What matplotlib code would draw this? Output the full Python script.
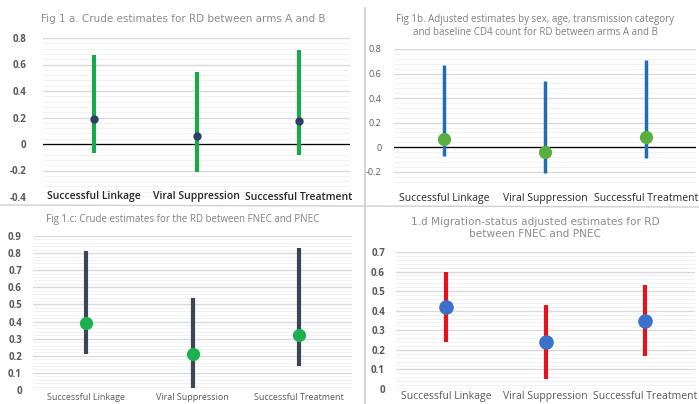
import matplotlib
matplotlib.use("Agg")
import matplotlib.pyplot as plt
from matplotlib.ticker import MultipleLocator, FixedLocator
import numpy as np

categories = ["Successful Linkage", "Viral Suppression", "Successful Treatment"]

# Fig 1a
a_est = [0.19, 0.06, 0.175]
a_low = [-0.07, -0.21, -0.08]
a_high = [0.67, 0.54, 0.71]
a_ticks = [-0.4, -0.2, 0, 0.2, 0.4, 0.6, 0.8]
a_ticklabels = ["-0.4", "-0.2", "0", "0.2", "0.4", "0.6", "0.8"]

# Fig 1b
b_est = [0.07, -0.04, 0.08]
b_low = [-0.07, -0.21, -0.09]
b_high = [0.67, 0.54, 0.71]
b_ticks = [-0.2, 0, 0.2, 0.4, 0.6, 0.8]
b_ticklabels = ["-0.2", "0", "0.2", "0.4", "0.6", "0.8"]

# Fig 1c
c_est = [0.39, 0.21, 0.32]
c_low = [0.21, 0.01, 0.14]
c_high = [0.81, 0.54, 0.83]
c_ticks = [0, 0.1, 0.2, 0.3, 0.4, 0.5, 0.6, 0.7, 0.8, 0.9]
c_ticklabels = ["0", "0.1", "0.2", "0.3", "0.4", "0.5", "0.6", "0.7", "0.8", "0.9"]

# Fig 1d
d_est = [0.42, 0.24, 0.35]
d_low = [0.24, 0.05, 0.17]
d_high = [0.60, 0.43, 0.53]
d_ticks = [0, 0.1, 0.2, 0.3, 0.4, 0.5, 0.6, 0.7]
d_ticklabels = ["0", "0.1", "0.2", "0.3", "0.4", "0.5", "0.6", "0.7"]

W, H = 699, 404
fig = plt.figure(figsize=(W / 100, H / 100), dpi=100)
fig.patch.set_facecolor("white")

FONT = "Open Sans"


def px_axes(x0, x1, ytop, ybot):
    return fig.add_axes([x0 / W, 1 - ybot / H, (x1 - x0) / W, (ybot - ytop) / H])


def panel(ax, est, low, high, ticks, ticklabels, ylim, minor, bar_color, bar_lw,
          mk_color, mk_size, zero_line, tick_pad, tick_fs, tick_weight):
    x = np.arange(len(categories))
    ax.set_xlim(-0.5, len(categories) - 0.5)
    ax.set_ylim(*ylim)
    for s in ax.spines.values():
        s.set_visible(False)
    ax.set_xticks([])
    ax.yaxis.set_major_locator(FixedLocator(ticks))
    ax.set_yticklabels(ticklabels, fontsize=tick_fs, color="#595959",
                       family=FONT, fontweight=tick_weight)
    ax.yaxis.set_minor_locator(MultipleLocator(minor))
    ax.tick_params(axis="y", which="both", length=0, pad=tick_pad)
    ax.grid(axis="y", which="major", color="#d9d9d9", lw=1.0)
    ax.grid(axis="y", which="minor", color="#efefef", lw=0.6)
    ax.set_axisbelow(True)
    if zero_line:
        ax.axhline(0, color="black", lw=0.9, zorder=2)
    ax.vlines(x, low, high, color=bar_color, lw=bar_lw, zorder=3)
    ax.plot(x, est, "o", color=mk_color, ms=mk_size, mec=mk_color, zorder=4)
    return x


# Panel a
ax_a = px_axes(43, 350, 38, 197)
xa = panel(ax_a, a_est, a_low, a_high, a_ticks, a_ticklabels, (-0.4, 0.8), 0.04,
           "#19a84b", 3.0, "#2c3e62", 5.0, True, 12, 7, "bold")
for xi, lab in zip(xa, categories):
    ax_a.text(xi, -0.4, lab, ha="center", va="center", fontsize=7.5,
              color="#262626", family=FONT, fontweight="semibold")
fig.text(183 / W, 1 - 19 / H, "Fig 1 a. Crude estimates for RD between arms A and B",
         ha="center", va="center", fontsize=7.5, color="#8c8c8c", family="DejaVu Sans")

# Panel b
ax_b = px_axes(394, 696, 49, 184)
xb = panel(ax_b, b_est, b_low, b_high, b_ticks, b_ticklabels, (-0.3, 0.8), 0.04,
           "#1f6db3", 2.5, "#5aae3f", 8.5, True, 9, 6.5, "normal")
for xi, lab in zip(xb, categories):
    ax_b.text(xi, -0.42, lab, ha="center", va="center", fontsize=7.5,
              color="#262626", family=FONT)
fig.text(535 / W, 1 - 26 / H,
         "Fig 1b. Adjusted estimates by sex, age, transmission category\nand baseline CD4 count for RD between arms A and B",
         ha="center", va="center", fontsize=7, color="#7f7f7f", family=FONT,
         linespacing=1.25)

# Panel c
ax_c = px_axes(33, 352, 236, 390)
xc = panel(ax_c, c_est, c_low, c_high, c_ticks, c_ticklabels, (0, 0.9), 0.02,
           "#3a4556", 3.0, "#1cb04f", 8.5, False, 8, 7, "bold")
for xi, lab in zip(xc, categories):
    ax_c.text(xi, -0.045, lab, ha="center", va="center", fontsize=6.5,
              color="#595959", family=FONT)
fig.text(183 / W, 1 - 219 / H, "Fig 1.c: Crude estimates for the RD between FNEC and PNEC",
         ha="center", va="center", fontsize=7, color="#7f7f7f", family=FONT)

# Panel d
ax_d = px_axes(396, 695, 252, 389)
xd = panel(ax_d, d_est, d_low, d_high, d_ticks, d_ticklabels, (0, 0.7), 0.02,
           "#e5121c", 3.0, "#3b71c8", 9.5, False, 8, 7, "bold")
for xi, lab in zip(xd, categories):
    ax_d.text(xi, -0.04, lab, ha="center", va="center", fontsize=7.5,
              color="#595959", family=FONT)
fig.text(535 / W, 1 - 228 / H,
         "1.d Migration-status adjusted estimates for RD\nbetween FNEC and PNEC",
         ha="center", va="center", fontsize=7.6, color="#8c8c8c", family="DejaVu Sans",
         linespacing=1.15)

# Separator lines between panels
sep = fig.add_axes([0, 0, 1, 1], zorder=-1)
sep.set_xlim(0, W)
sep.set_ylim(H, 0)
sep.axis("off")
sep.plot([365, 365], [8, H], color="#cfcfcf", lw=1.3)
sep.plot([0, W], [205, 207], color="#cfcfcf", lw=1.0)

fig.savefig("out.png", dpi=100, facecolor="white")
